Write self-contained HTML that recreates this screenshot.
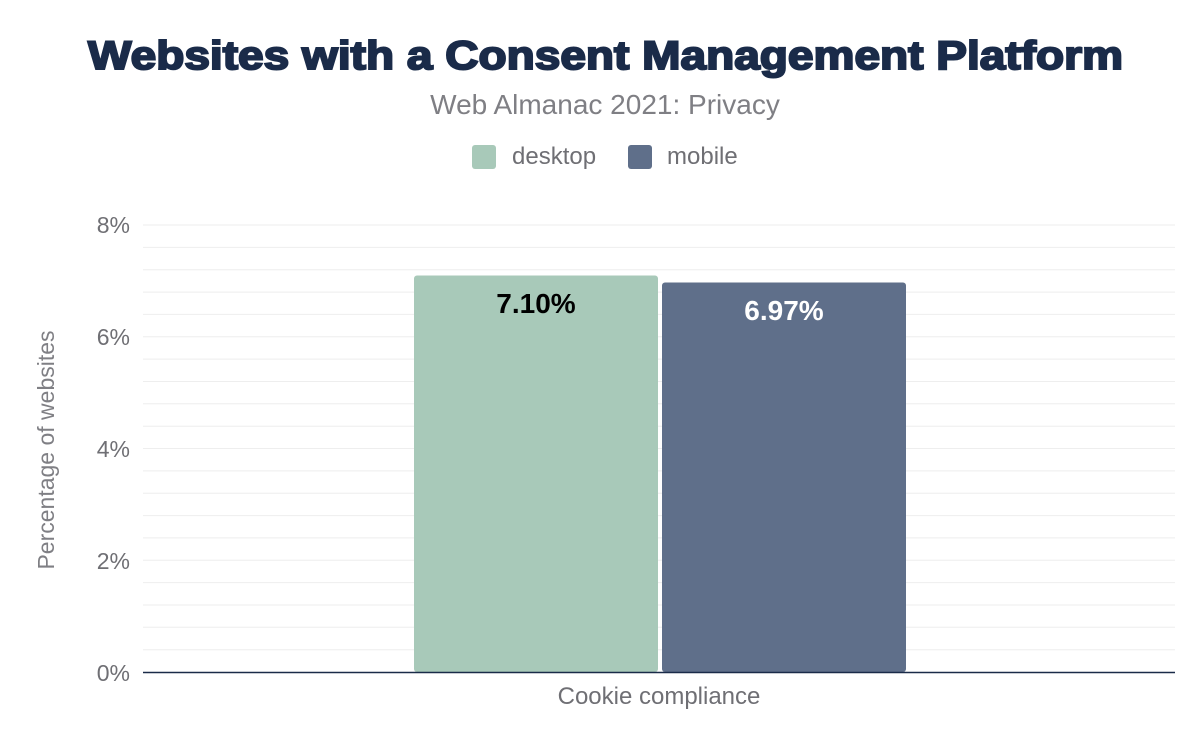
<!DOCTYPE html>
<html><head><meta charset="utf-8"><style>
body{margin:0;background:#fff;}
svg{display:block;}
</style></head><body>
<svg width="1200" height="742" xmlns="http://www.w3.org/2000/svg" font-family="Liberation Sans, sans-serif">
<rect width="1200" height="742" fill="#fff"/>
<text x="88" y="69" textLength="1035" lengthAdjust="spacingAndGlyphs" font-size="40" font-weight="900" fill="#1a2b49" stroke="#1a2b49" stroke-width="2">Websites with a Consent Management Platform</text>
<text x="605" y="114" text-anchor="middle" font-size="28" fill="#7f7f84">Web Almanac 2021: Privacy</text>
<rect x="472" y="145" width="24" height="24" rx="3" fill="#a8c9b9"/>
<text x="512" y="164" font-size="24" fill="#6f6f74">desktop</text>
<rect x="628" y="145" width="24" height="24" rx="3" fill="#5f6f8a"/>
<text x="667" y="164" font-size="24" fill="#6f6f74">mobile</text>
<g stroke="#eeeeee" stroke-width="1">
<line x1="143" x2="1175" y1="225" y2="225"/><line x1="143" x2="1175" y1="247.4" y2="247.4"/><line x1="143" x2="1175" y1="269.7" y2="269.7"/><line x1="143" x2="1175" y1="292.1" y2="292.1"/><line x1="143" x2="1175" y1="314.4" y2="314.4"/>
<line x1="143" x2="1175" y1="336.8" y2="336.8"/><line x1="143" x2="1175" y1="359.1" y2="359.1"/><line x1="143" x2="1175" y1="381.5" y2="381.5"/><line x1="143" x2="1175" y1="403.8" y2="403.8"/><line x1="143" x2="1175" y1="426.2" y2="426.2"/>
<line x1="143" x2="1175" y1="448.5" y2="448.5"/><line x1="143" x2="1175" y1="470.9" y2="470.9"/><line x1="143" x2="1175" y1="493.2" y2="493.2"/><line x1="143" x2="1175" y1="515.6" y2="515.6"/><line x1="143" x2="1175" y1="537.9" y2="537.9"/>
<line x1="143" x2="1175" y1="560.3" y2="560.3"/><line x1="143" x2="1175" y1="582.6" y2="582.6"/><line x1="143" x2="1175" y1="605" y2="605"/><line x1="143" x2="1175" y1="627.3" y2="627.3"/><line x1="143" x2="1175" y1="649.7" y2="649.7"/>
</g>
<g font-size="23" fill="#6f6f74" text-anchor="end">
<text x="130" y="233">8%</text><text x="130" y="345">6%</text><text x="130" y="457">4%</text><text x="130" y="569">2%</text><text x="130" y="681">0%</text>
</g>
<text transform="translate(54,450) rotate(-90)" text-anchor="middle" font-size="23" fill="#7f7f84">Percentage of websites</text>
<rect x="414" y="275.5" width="244" height="396.5" rx="3" fill="#a8c9b9"/>
<rect x="662" y="282.5" width="244" height="389.5" rx="3" fill="#5f6f8a"/>
<text x="536" y="313" text-anchor="middle" font-size="28" font-weight="bold" fill="#000">7.10%</text>
<text x="784" y="320" text-anchor="middle" font-size="28" font-weight="bold" fill="#fff">6.97%</text>
<line x1="143" x2="1175" y1="672.5" y2="672.5" stroke="#1a2b49" stroke-width="1.5"/>
<text x="659" y="704" text-anchor="middle" font-size="24" fill="#6f6f74">Cookie compliance</text>
</svg>
</body></html>
